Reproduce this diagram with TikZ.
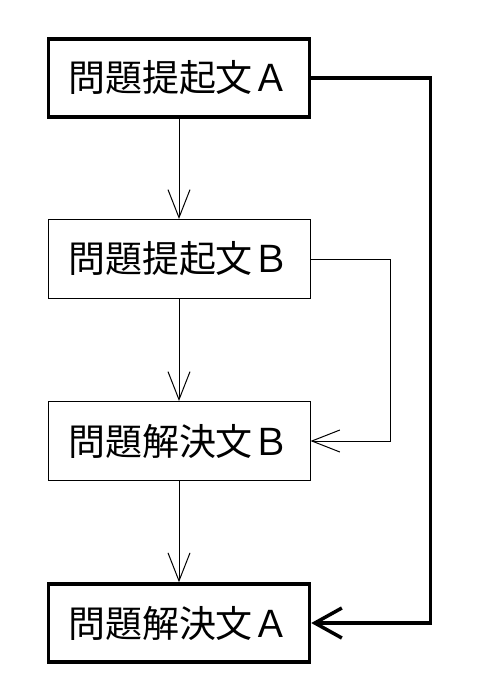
\documentclass[tikz,border=0pt]{standalone}
\usepackage{fontspec}
\newfontfamily\cjk{Noto Sans CJK JP}
\usepackage{tikz}
\usetikzlibrary{positioning,arrows.meta}

\begin{document}
\begin{tikzpicture}[x=1pt, y=-1pt, every node/.style={rectangle, draw, line width=1pt, minimum width=262pt, minimum height=79pt, inner sep=0pt, font=\cjk\fontsize{37}{42}\selectfont}]
        \useasboundingbox (0,0) rectangle (480,697);
        \node[line width=3.5pt, minimum width=261pt, minimum height=78pt] (qa) at (179,78) {問題提起文Ａ};
        \node (qb) at (179,259) {問題提起文Ｂ};
        \node (sb) at (179,441) {問題解決文Ｂ};
        \node[line width=3.5pt, minimum width=261pt, minimum height=78pt] (sa) at (179,623) {問題解決文Ａ};
        \draw[line width=1pt, -{Straight Barb[length=28pt,width=22pt]}] (qa) -- (qb);
        \draw[line width=1pt, -{Straight Barb[length=28pt,width=22pt]}] (qb) -- (sb);
        \draw[line width=1pt, -{Straight Barb[length=28pt,width=22pt]}] (sb) -- (sa);
        \draw[line width=1pt, -{Straight Barb[length=28pt,width=22pt]}] (qb.east) -- ++(80,0) |- (sb.east);
        \draw[line width=3.5pt, -{Straight Barb[length=27pt,width=30pt]}] (qa.east) -- ++(119,0) |- (sa.east);
    \end{tikzpicture}
\end{document}
